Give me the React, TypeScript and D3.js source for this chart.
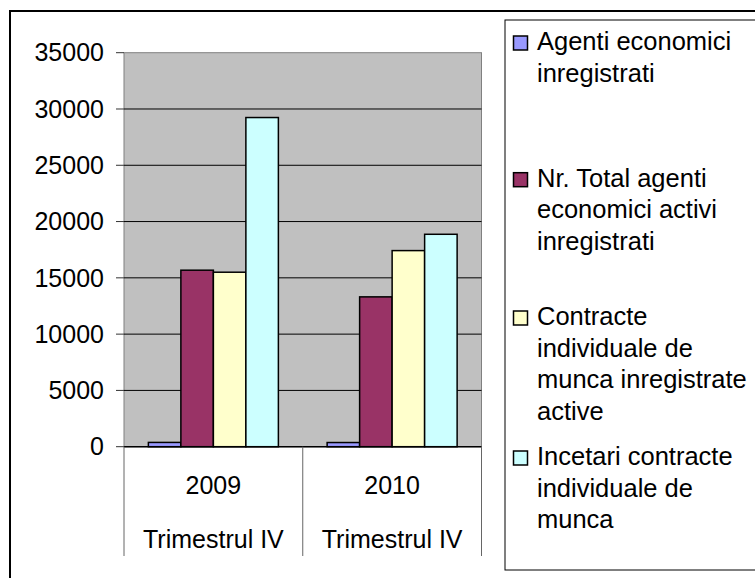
import React from "react";
import * as d3 from "d3";

// data
const years = ["2009", "2010"];
const periodLabel = "Trimestrul IV";
const seriesNames = [
  "Agenti economici inregistrati",
  "Nr. Total agenti economici activi inregistrati",
  "Contracte individuale de munca inregistrate active",
  "Incetari contracte individuale de munca",
];
// wrapped the way the legend shows them
const legendLines = [
  ["Agenti economici", "inregistrati"],
  ["Nr. Total agenti", "economici activi", "inregistrati"],
  ["Contracte", "individuale de", "munca inregistrate", "active"],
  ["Incetari contracte", "individuale de", "munca"],
];
const values2009 = [380, 15680, 15500, 29240];
const values2010 = [370, 13310, 17420, 18870];
const yTicks = [0, 5000, 10000, 15000, 20000, 25000, 30000, 35000];
const colors = ["#9999FF", "#993366", "#FFFFCC", "#CCFFFF"];

const W = 755;
const H = 578;
const font = "'Liberation Sans', Arial, sans-serif";

export default function App() {
  const plot = { left: 124, right: 481.5, top: 52.7, bottom: 446.7 };
  const rows = [values2009, values2010];

  const y = d3.scaleLinear().domain([0, 35000]).range([plot.bottom, plot.top]);
  const x = d3.scaleBand().domain(years).range([plot.left, plot.right]).padding(0);
  const xs = d3
    .scaleBand()
    .domain(seriesNames)
    .range([0, x.bandwidth()])
    .paddingInner(0)
    .paddingOuter(0.75);

  const legendStarts = [50, 186.7, 325, 465];
  const lineH = 31.7;

  return (
    <svg
      width={W}
      height={H}
      style={{ position: "absolute", left: 0, top: 0, background: "#fff" }}
      fontFamily={font}
    >
      {/* outer chart border, clipped on the right and bottom */}
      <rect x={10} y={11} width={780} height={600} fill="#fff" stroke="#000" strokeWidth={2} />

      {/* plot area */}
      <rect
        x={plot.left}
        y={plot.top}
        width={plot.right - plot.left}
        height={plot.bottom - plot.top}
        fill="#C0C0C0"
        stroke="#808080"
        strokeWidth={1}
      />
      {yTicks.map((t) => (
        <g key={t}>
          {t > 0 && t < 35000 && (
            <line x1={plot.left} x2={plot.right} y1={y(t)} y2={y(t)} stroke="#000" strokeWidth={1} />
          )}
          <line x1={plot.left - 8} x2={plot.left} y1={y(t)} y2={y(t)} stroke="#333" strokeWidth={1} />
          <text x={104} y={y(t)} dy="0.35em" textAnchor="end" fontSize={25} fill="#000">
            {t}
          </text>
        </g>
      ))}

      {/* bars */}
      {years.map((yr, i) => (
        <g key={yr} transform={`translate(${x(yr)},0)`}>
          {rows[i].map((v, j) => (
            <rect
              key={j}
              x={xs(seriesNames[j])}
              y={y(v)}
              width={xs.bandwidth()}
              height={y(0) - y(v)}
              fill={colors[j]}
              stroke="#000"
              strokeWidth={1.5}
            />
          ))}
        </g>
      ))}

      {/* category axis */}
      <line x1={plot.left} x2={plot.right} y1={y(0)} y2={y(0)} stroke="#000" strokeWidth={1.5} />
      {[plot.left, ...years.map((yr) => x(yr)! + x.bandwidth())].map((xx, i) => (
        <line key={i} x1={xx} x2={xx} y1={y(0)} y2={556} stroke="#666" strokeWidth={1} />
      ))}
      {years.map((yr) => (
        <g key={yr}>
          <text x={x(yr)! + x.bandwidth() / 2} y={494} textAnchor="middle" fontSize={25} fill="#000">
            {yr}
          </text>
          <text x={x(yr)! + x.bandwidth() / 2} y={548} textAnchor="middle" fontSize={25} fill="#000">
            {periodLabel}
          </text>
        </g>
      ))}

      {/* legend */}
      <rect x={505} y={20} width={300} height={550} fill="#fff" stroke="#000" strokeWidth={1} />
      {legendLines.map((lines, i) => (
        <g key={i}>
          <rect
            x={513.5}
            y={legendStarts[i] - 14}
            width={14}
            height={14}
            fill={colors[i]}
            stroke="#000"
            strokeWidth={1.5}
          />
          {lines.map((ln, k) => (
            <text key={k} x={537} y={legendStarts[i] + k * lineH} fontSize={25.5} fill="#000">
              {ln}
            </text>
          ))}
        </g>
      ))}
    </svg>
  );
}
